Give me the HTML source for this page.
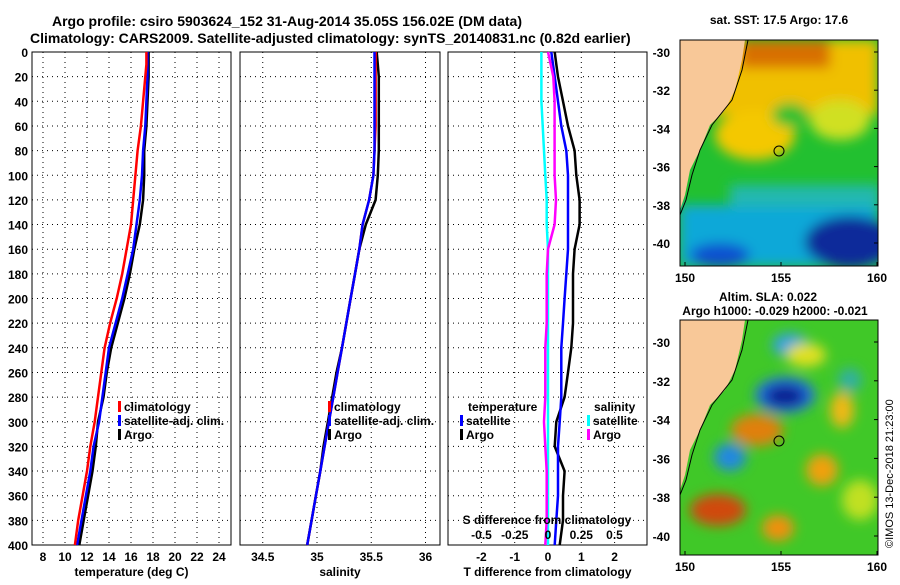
<!DOCTYPE html>
<html><head><meta charset="utf-8"><style>
body{margin:0;background:#fff}
svg text{font-family:"Liberation Sans",sans-serif;font-weight:bold;fill:#000}
</style></head><body>
<svg id="fig" width="900" height="580" xmlns="http://www.w3.org/2000/svg">
<defs>
<filter id="blur6"><feGaussianBlur stdDeviation="6"/></filter>
<clipPath id="clipTop"><rect x="680" y="40" width="198" height="226"/></clipPath>
<clipPath id="clipBot"><rect x="680" y="320" width="198" height="235"/></clipPath>
</defs>
<text x="52" y="26" font-size="14">Argo profile: csiro 5903624_152 31-Aug-2014 35.05S 156.02E (DM data)</text>
<text x="30" y="43" font-size="14">Climatology: CARS2009. Satellite-adjusted climatology: synTS_20140831.nc (0.82d earlier)</text>
<g id="plots"></g>

<g clip-path="url(#clipTop)">
<rect x="680" y="40" width="198" height="226" fill="#22c030"/>
<g filter="url(#blur6)">
<rect x="680" y="40" width="198" height="75" fill="#f0c000"/>
<rect x="740" y="40" width="90" height="28" fill="#d87000"/>
<ellipse cx="755" cy="135" rx="40" ry="25" fill="#f4c800"/>
<ellipse cx="840" cy="120" rx="30" ry="20" fill="#d0e020"/>
<ellipse cx="790" cy="115" rx="18" ry="12" fill="#30c030"/>
<rect x="680" y="205" width="198" height="61" fill="#10a8d8"/>
<rect x="730" y="185" width="150" height="22" fill="#20b8b0"/>
<ellipse cx="850" cy="242" rx="45" ry="26" fill="#0a2a9a"/>
<ellipse cx="720" cy="255" rx="30" ry="12" fill="#1050d0"/>
</g>
<polygon points="680,40 745,40 742,60 735,90 725,110 710,125 700,150 690,170 685,195 680,210" fill="#f8c898"/>
<polyline points="748,40 742,70 732,100 712,125 700,150 692,175 686,200 680,215" fill="none" stroke="#000" stroke-width="1"/>
<circle cx="779" cy="151" r="5" fill="none" stroke="#000"/>
</g>
<rect x="680" y="40" width="198" height="226" fill="none" stroke="#000"/>
<text x="779" y="24" font-size="12" text-anchor="middle">sat. SST: 17.5 Argo: 17.6</text>

<g clip-path="url(#clipBot)">
<rect x="680" y="320" width="198" height="235" fill="#40c828"/>
<g filter="url(#blur6)">
<ellipse cx="790" cy="345" rx="18" ry="12" fill="#30a0e0"/>
<ellipse cx="785" cy="395" rx="30" ry="18" fill="#2070e0"/>
<ellipse cx="785" cy="396" rx="20" ry="11" fill="#0a1a90"/>
<ellipse cx="757" cy="430" rx="26" ry="16" fill="#e08010"/>
<ellipse cx="730" cy="457" rx="16" ry="14" fill="#2088e0"/>
<ellipse cx="718" cy="510" rx="28" ry="16" fill="#d04808"/>
<ellipse cx="822" cy="470" rx="16" ry="16" fill="#f0a010"/>
<ellipse cx="842" cy="410" rx="12" ry="18" fill="#f0b818"/>
<ellipse cx="778" cy="528" rx="16" ry="13" fill="#f09010"/>
<ellipse cx="850" cy="380" rx="12" ry="12" fill="#30b0a0"/>
<ellipse cx="806" cy="355" rx="20" ry="12" fill="#e0e020"/>
<ellipse cx="860" cy="500" rx="18" ry="20" fill="#c0e020"/>
</g>
<polygon points="680,320 745,320 742,340 735,370 725,390 710,405 700,430 690,450 685,475 680,490" fill="#f8c898"/>
<polyline points="748,320 742,350 732,380 712,405 700,430 692,455 686,480 680,495" fill="none" stroke="#000"/>
<circle cx="779" cy="441" r="5" fill="none" stroke="#000"/>
</g>
<rect x="680" y="320" width="198" height="235" fill="none" stroke="#000"/>
<text x="768" y="301" font-size="12" text-anchor="middle">Altim. SLA: 0.022</text>
<text x="775" y="315" font-size="12" text-anchor="middle">Argo h1000: -0.029 h2000: -0.021</text>
<text transform="translate(893,548) rotate(-90)" font-size="11" style="font-weight:normal">©IMOS 13-Dec-2018 21:23:00</text>
<g id="maplabels"></g>
</svg>
<script>
const depths=[0,10,20,40,60,80,100,120,140,160,180,200,220,240,260,280,300,320,340,360,380,400];
const tClim=[17.4,17.4,17.3,17.1,16.9,16.6,16.4,16.2,16.0,15.6,15.2,14.7,14.1,13.6,13.3,13.0,12.7,12.3,12.0,11.6,11.2,10.9];
const tSat=[17.5,17.5,17.5,17.4,17.3,17.1,17.0,16.8,16.5,16.2,15.7,15.2,14.6,14.0,13.7,13.4,13.1,12.6,12.3,11.9,11.5,11.1];
const tArgo=[17.6,17.6,17.6,17.5,17.4,17.2,17.2,17.1,16.8,16.3,15.9,15.4,14.8,14.2,13.8,13.5,13.0,12.8,12.5,12.1,11.7,11.3];
const sClim=[35.54,35.54,35.54,35.54,35.54,35.53,35.52,35.48,35.42,35.39,35.35,35.31,35.27,35.23,35.19,35.15,35.11,35.07,35.03,34.99,34.95,34.91];
const sSat=[35.53,35.53,35.53,35.53,35.53,35.53,35.52,35.48,35.42,35.39,35.35,35.31,35.27,35.23,35.19,35.15,35.11,35.07,35.03,34.99,34.95,34.91];
const sArgo=[35.55,35.56,35.57,35.57,35.57,35.57,35.56,35.54,35.45,35.39,35.35,35.31,35.27,35.23,35.18,35.14,35.10,35.06,35.03,34.99,34.95,34.91];
const dTSat=[0.1,0.15,0.2,0.3,0.4,0.55,0.6,0.6,0.6,0.6,0.55,0.5,0.45,0.4,0.4,0.4,0.35,0.3,0.3,0.3,0.25,0.2];
const dTArgo=[0.2,0.25,0.3,0.45,0.6,0.8,0.85,0.95,0.95,0.8,0.75,0.75,0.75,0.7,0.6,0.5,0.25,0.2,0.5,0.45,0.45,0.35];
const dSSat=[-0.05,-0.05,-0.05,-0.05,-0.04,-0.03,-0.02,-0.01,-0.01,0,0,0,0,0,0,0,0,0,0,0,0,0];
const dSArgo=[0.0,0.02,0.04,0.05,0.05,0.05,0.05,0.06,0.05,0.0,-0.01,-0.01,-0.01,-0.02,-0.02,-0.02,-0.03,-0.02,-0.01,-0.01,-0.01,-0.02];
const depthTicks=[0,20,40,60,80,100,120,140,160,180,200,220,240,260,280,300,320,340,360,380,400];
const tTicks=[8,10,12,14,16,18,20,22,24];
const sTicks=[34.5,35,35.5,36];
const dTTicks=[-2,-1,0,1,2];
const dSTicks=[-0.5,-0.25,0,0.25,0.5];
const lonTicks=[150,155,160];
const latTicks=[-30,-32,-34,-36,-38,-40];

const NS="http://www.w3.org/2000/svg";
const g=document.getElementById('plots');
function el(tag,attrs,parent){const e=document.createElementNS(NS,tag);for(const k in attrs)e.setAttribute(k,attrs[k]);(parent||g).appendChild(e);return e;}
const Y0=52,Y1=545;
const yD=d=>Y0+(d/400)*(Y1-Y0);
const panels=[
 {x0:32,x1:231,fx:v=>43+(v-8)*11,ticks:tTicks,label:'temperature (deg C)',name:'temperature'},
 {x0:240,x1:440,fx:v=>317+(v-35)*108.5,ticks:sTicks,label:'salinity',name:'salinity'},
 {x0:448,x1:647,fx:v=>548+v*33.3,ticks:dTTicks,label:'T difference from climatology',name:'difference'}
];
const fS=v=>548+v*133;
panels.forEach((p,i)=>{
 const pg=el('g',{});
 
 
 depthTicks.forEach(d=>{el('line',{x1:p.x0,x2:p.x1,y1:yD(d),y2:yD(d),stroke:'#000','stroke-dasharray':'1,4'},pg);});
 p.ticks.forEach(t=>{
  el('line',{x1:p.fx(t),x2:p.fx(t),y1:Y0,y2:Y1,stroke:'#000','stroke-dasharray':'1,4'},pg);
  const tx=el('text',{x:p.fx(t),y:561,'font-size':12,'text-anchor':'middle'},pg);
  
  
  tx.textContent=t;
 });
 const xl=el('text',{x:(p.x0+p.x1)/2,y:576,'font-size':12,'text-anchor':'middle'},pg);
 
 
 xl.textContent=p.label;
 el('rect',{x:p.x0,y:Y0,width:p.x1-p.x0,height:Y1-Y0,fill:'none',stroke:'#000'},pg);
});
depthTicks.forEach(d=>{
 const t=el('text',{x:28,y:yD(d)+5,'font-size':12,'text-anchor':'end'});
 
 
 t.textContent=d;
});
function line(vals,fx,color,name,w){
 const pts=vals.map((v,i)=>fx(v).toFixed(1)+','+yD(depths[i]).toFixed(1)).join(' ');
 const pl=el('polyline',{points:pts,fill:'none',stroke:color,'stroke-width':w||2.5});
 
 
}
const P=panels;
line(tArgo,P[0].fx,'#000','argo-temperature-line');
line(tSat,P[0].fx,'#00f','satellite-temperature-line');
line(tClim,P[0].fx,'#f00','climatology-temperature-line');
line(sArgo,P[1].fx,'#000','argo-salinity-line');
line(sClim,P[1].fx,'#f00','climatology-salinity-line');
line(sSat,P[1].fx,'#00f','satellite-salinity-line');
line(dTArgo,P[2].fx,'#000','argo-t-diff-line');
line(dTSat,P[2].fx,'#00f','satellite-t-diff-line');
line(dSSat,fS,'#0ff','satellite-s-diff-line');
line(dSArgo,fS,'#f0f','argo-s-diff-line');
const sl=el('text',{x:547,y:524,'font-size':12,'text-anchor':'middle'});


sl.textContent='S difference from climatology';
dSTicks.forEach(t=>{
 const tx=el('text',{x:fS(t),y:539,'font-size':12,'text-anchor':'middle'});
 
 
 tx.textContent=t;
});
function legend(x,y,color,label){
 const lg=el('g',{});
 
 
 if(color)el('rect',{x:x,y:y-10,width:3,height:11,fill:color},lg);
 const t=el('text',{x:x+(color?6:0),y:y,'font-size':12},lg);
 t.textContent=label;
}
legend(118,411,'#f00','climatology');legend(118,425,'#00f','satellite-adj. clim.');legend(118,439,'#000','Argo');
legend(328,411,'#f00','climatology');legend(328,425,'#00f','satellite-adj. clim.');legend(328,439,'#000','Argo');
legend(468,411,null,'temperature');legend(460,425,'#00f','satellite');legend(460,439,'#000','Argo');
legend(594,411,null,'salinity');legend(587,425,'#0ff','satellite');legend(587,439,'#f0f','Argo');
const ml=document.getElementById('maplabels');
function lonX(l){return 685+(l-150)*19.2;}
[[40,266,52,243],[320,555,342,536]].forEach(([top,bot,y30,y40])=>{
 lonTicks.forEach(l=>{
  const t=el('text',{x:lonX(l),y:bot+16,'font-size':12,'text-anchor':'middle'},ml);
  
  
  t.textContent=l;
  el('line',{x1:lonX(l),x2:lonX(l),y1:bot,y2:bot-4,stroke:'#000'},ml);
 });
 latTicks.forEach(l=>{
  const y=y30+(-30-l)/10*(y40-y30);
  const t=el('text',{x:670,y:y+5,'font-size':12,'text-anchor':'end'},ml);
  
  
  t.textContent=l;
  el('line',{x1:878,x2:874,y1:y,y2:y,stroke:'#000'},ml);
 });
});
</script>
</body></html>
